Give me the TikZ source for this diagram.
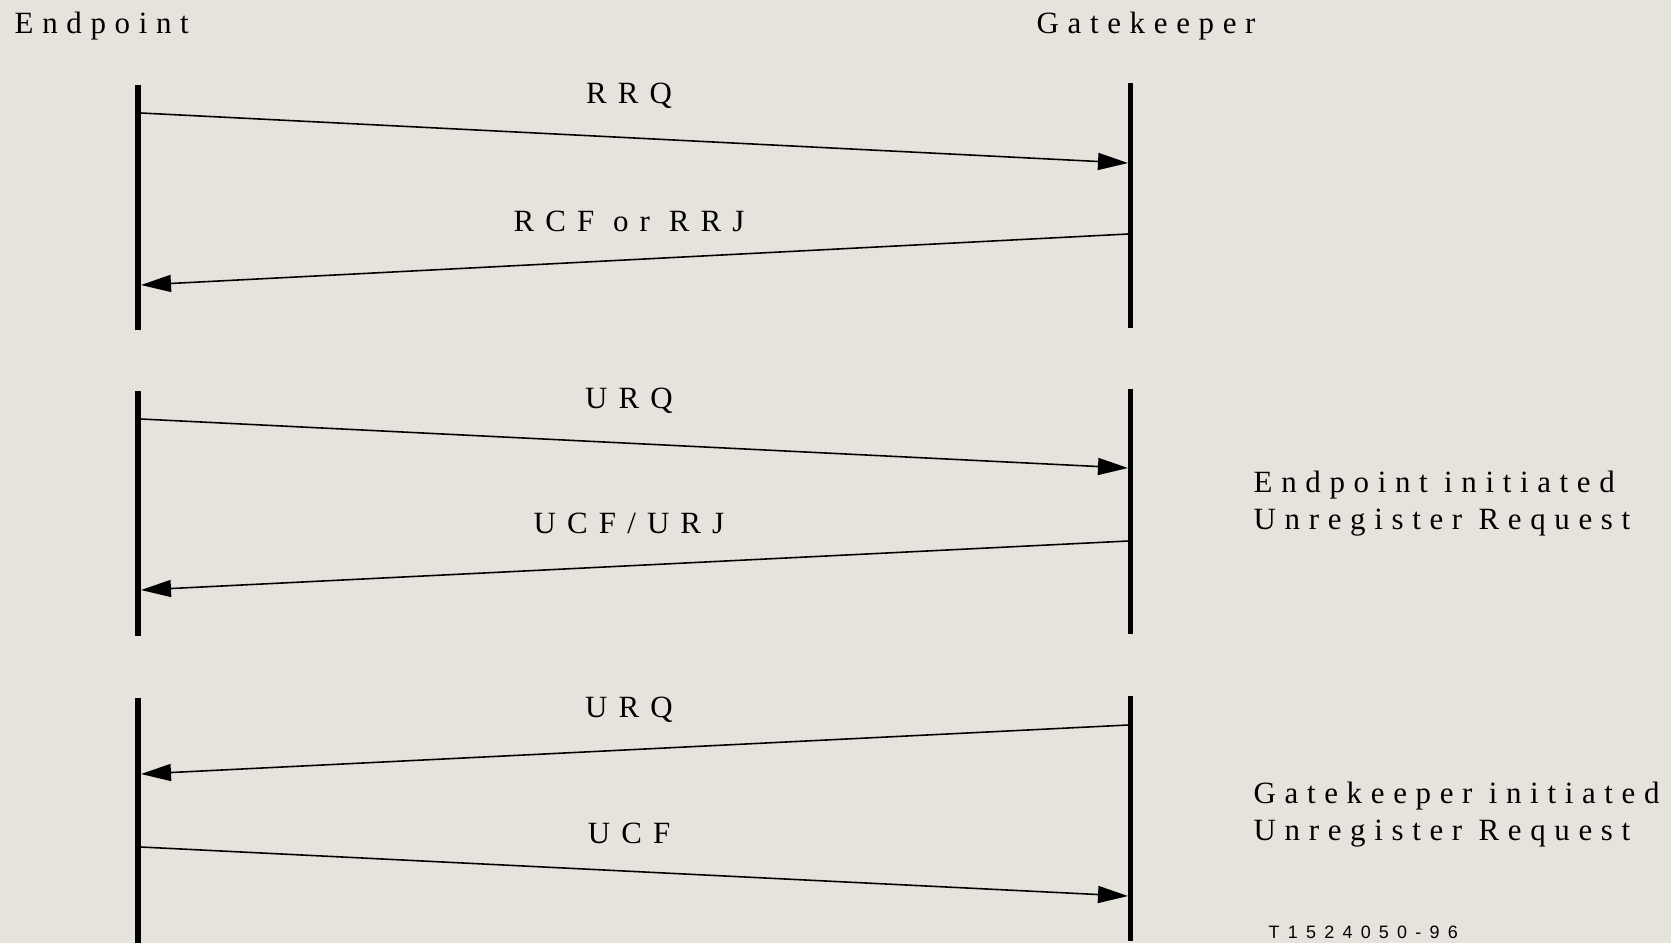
\documentclass[tikz,border=0pt]{standalone}
\usepackage{fontspec}
\setmainfont{Liberation Serif}
\newfontfamily\spacedfont{Liberation Serif}[LetterSpace=28]
\newfontfamily\labelfont{Liberation Serif}[LetterSpace=36]
\newfontfamily\codefont{Liberation Sans}[LetterSpace=46]
\usetikzlibrary{arrows.meta}
\definecolor{paper}{RGB}{229,227,220}

\tikzset{
  lifeline/.style={line width=1.6pt},
  msg/.style={line width=0.45pt, -{Triangle[length=0.30cm, width=0.17cm]}},
  msglabel/.style={anchor=base, inner sep=0pt, font=\labelfont\fontsize{8.8}{10.5}\selectfont},
  actor/.style={anchor=base west, inner sep=0pt, font=\spacedfont\fontsize{8.8}{10.5}\selectfont},
  note/.style={anchor=base west, inner sep=0pt, align=left, font=\spacedfont\fontsize{8.8}{10.5}\selectfont}
}

\begin{document}
\begin{tikzpicture}
		% Background and picture size
		\fill[paper] (0,0) rectangle (16.71,-9.43);
		\useasboundingbox (0,0) rectangle (16.71,-9.43);
		
		% Names of the two parties
		\node[actor] (endpoint) at (0.14,-0.33) {Endpoint};
		\node[actor] (gatekeeper) at (10.36,-0.33) {Gatekeeper};
		
		% Draw the three pairs of lifelines
		\foreach \top/\bot in {-0.85/-3.30, -3.91/-6.36, -6.98/-9.43}
		{
			\draw[lifeline] (1.38,\top) -- (1.38,\bot);
			\draw[lifeline] (11.305,\top+0.02) -- (11.305,\bot+0.02);
		}
		
		% End points of the messages
		\coordinate (ep1) at (1.41,-1.13);  \coordinate (gk1) at (11.28,-1.63);
		\coordinate (gk2) at (11.28,-2.34); \coordinate (ep2) at (1.41,-2.85);
		\coordinate (ep3) at (1.41,-4.19);  \coordinate (gk3) at (11.28,-4.68);
		\coordinate (gk4) at (11.28,-5.41); \coordinate (ep4) at (1.41,-5.90);
		\coordinate (gk5) at (11.28,-7.25); \coordinate (ep5) at (1.41,-7.74);
		\coordinate (ep6) at (1.41,-8.47);  \coordinate (gk6) at (11.28,-8.96);
		
		% Registration
		\draw[msg] (ep1) -- (gk1);
		\node[msglabel] (rrq) at (6.29,-1.03) {RRQ};
		\draw[msg] (gk2) -- (ep2);
		\node[msglabel] (rcf) at (6.29,-2.31) {RCF or RRJ};
		
		% Endpoint initiated unregistration
		\draw[msg] (ep3) -- (gk3);
		\node[msglabel] (urq) at (6.29,-4.08) {URQ};
		\draw[msg] (gk4) -- (ep4);
		\node[msglabel] (ucfurj) at (6.29,-5.33) {UCF/URJ};
		\node[note] (epnote) at (12.53,-5.29) {Endpoint initiated\\Unregister Request};
		
		% Gatekeeper initiated unregistration
		\draw[msg] (gk5) -- (ep5);
		\node[msglabel] (gkurq) at (6.29,-7.17) {URQ};
		\draw[msg] (ep6) -- (gk6);
		\node[msglabel] (ucf) at (6.29,-8.43) {UCF};
		\node[note] (gknote) at (12.53,-8.40) {Gatekeeper initiated\\Unregister Request};
		
		% Figure number
		\node[anchor=base west, inner sep=0pt, font=\codefont\fontsize{5.1}{6}\selectfont] (fignum) at (12.68,-9.38) {T1524050-96};
	\end{tikzpicture}
\end{document}
